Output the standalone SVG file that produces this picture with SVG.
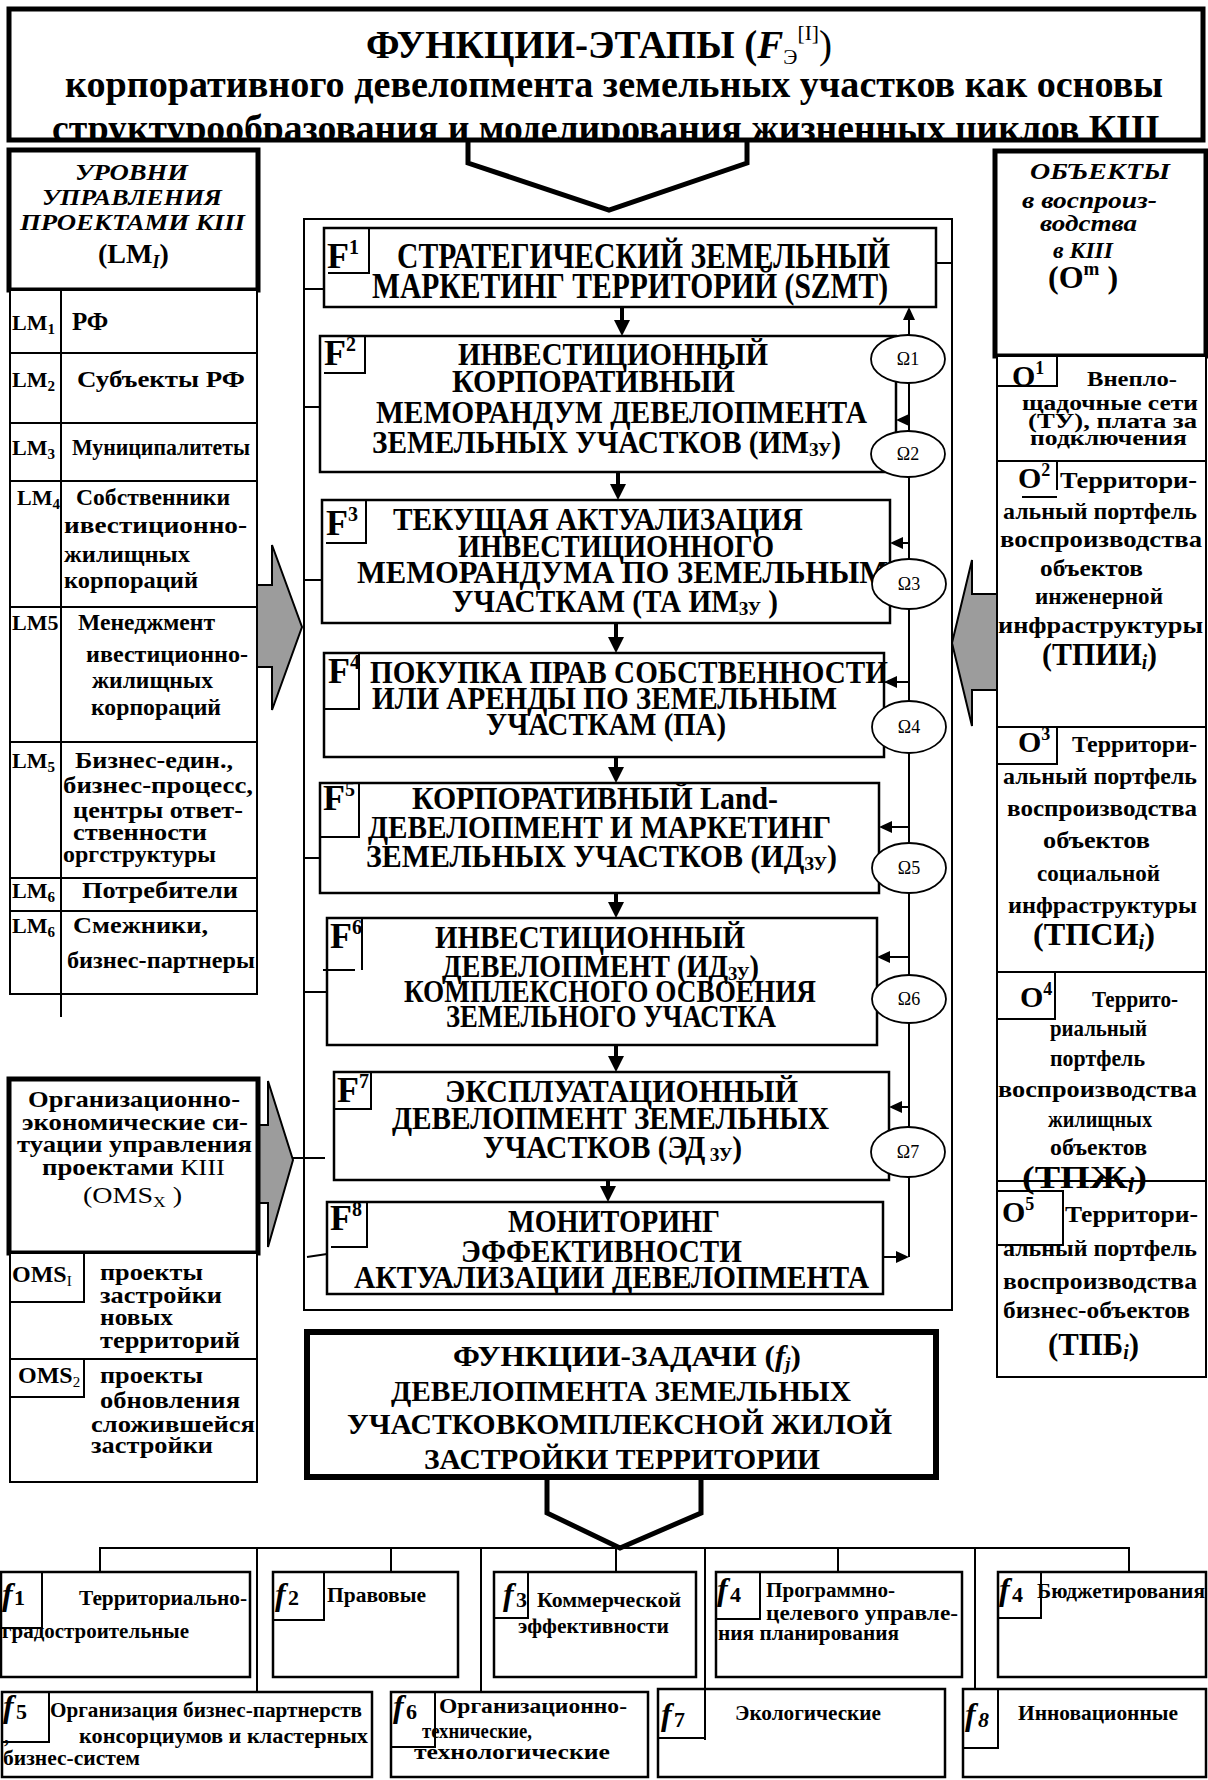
<svg xmlns="http://www.w3.org/2000/svg" width="1208" height="1780" viewBox="0 0 1208 1780">
<defs>
<style>
text{font-family:"Liberation Serif","Times New Roman",serif;font-weight:bold;fill:#000}
.it{font-style:italic}
.rg{font-weight:normal}
.bx{fill:#fff;stroke:#000;stroke-width:2.5}
.tk{fill:#fff;stroke:#000;stroke-width:5}
.ln{fill:none;stroke:#000;stroke-width:2}
.dn{fill:none;stroke:#000;stroke-width:4}
.gr{fill:#9c9c9c;stroke:#000;stroke-width:2}
.om{fill:#fff;stroke:#000;stroke-width:1.8}
.ff{font-size:31px}
.f1{font-size:36px}
.lb{font-size:36px}
.lm{font-size:22px}
.lt{font-size:23px}
.rc{font-size:24px}
.bt{font-size:20px}
.fl{font-size:32px;font-style:italic}
.fn{font-size:22px}
.ome{font-size:18px;font-weight:normal}
</style>
<marker id="ah" markerUnits="userSpaceOnUse" markerWidth="18" markerHeight="18" refX="6" refY="8" orient="auto"><path d="M0,0 L16,8 L0,16 z" fill="#000"/></marker>
<marker id="as" markerUnits="userSpaceOnUse" markerWidth="14" markerHeight="14" refX="5" refY="6" orient="auto"><path d="M0,0 L13,6 L0,12 z" fill="#000"/></marker>
<clipPath id="hc"><rect x="0" y="0" width="1208" height="139"/></clipPath>
</defs>
<rect x="0" y="0" width="1208" height="1780" fill="#fff"/>

<!-- big frame -->
<rect x="304" y="219" width="648" height="1091" fill="none" stroke="#000" stroke-width="2"/>

<g id="connectors">
  <polyline class="tk" points="468,138 468,163 609,210 747,163 747,138"/>
  <line class="dn" x1="622" y1="307" x2="622" y2="326" marker-end="url(#ah)"/>
  <line class="dn" x1="618" y1="472" x2="618" y2="490" marker-end="url(#ah)"/>
  <line class="dn" x1="616" y1="623" x2="616" y2="643" marker-end="url(#ah)"/>
  <line class="dn" x1="616" y1="757" x2="616" y2="773" marker-end="url(#ah)"/>
  <line class="dn" x1="616" y1="893" x2="616" y2="908" marker-end="url(#ah)"/>
  <line class="dn" x1="616" y1="1045" x2="616" y2="1062" marker-end="url(#ah)"/>
  <line class="dn" x1="608" y1="1177" x2="608" y2="1192" marker-end="url(#ah)"/>
  <line class="ln" x1="909" y1="1257" x2="909" y2="315" marker-end="url(#as)"/>
  <line class="ln" x1="883" y1="1257" x2="901" y2="1257" marker-end="url(#as)"/>
  <line class="ln" x1="909" y1="420" x2="904" y2="420" marker-end="url(#as)"/>
  <line class="ln" x1="909" y1="543" x2="898" y2="543" marker-end="url(#as)"/>
  <line class="ln" x1="909" y1="682" x2="892" y2="682" marker-end="url(#as)"/>
  <line class="ln" x1="909" y1="827" x2="887" y2="827" marker-end="url(#as)"/>
  <line class="ln" x1="909" y1="957" x2="885" y2="957" marker-end="url(#as)"/>
  <line class="ln" x1="909" y1="1107" x2="897" y2="1107" marker-end="url(#as)"/>
  <line class="ln" x1="304" y1="289" x2="324" y2="289"/>
  <line class="ln" x1="304" y1="407" x2="320" y2="407"/>
  <line class="ln" x1="304" y1="580" x2="322" y2="580"/>
  <line class="ln" x1="304" y1="858" x2="320" y2="858"/>
  <line class="ln" x1="304" y1="992" x2="332" y2="992"/>
  <line class="ln" x1="293" y1="1158" x2="325" y2="1158"/>
  <line class="ln" x1="307" y1="1257" x2="327" y2="1254"/>
  <line class="ln" x1="936" y1="263" x2="952" y2="263"/>
  <polygon class="gr" points="249,585 272,585 272,545 302,627 272,710 272,667 249,667"/>
  <polygon class="gr" points="1003,594 972,594 972,560 952,643 972,726 972,690 1003,690"/>
  <polygon class="gr" points="258,1125 268,1125 268,1081 293,1160 268,1247 268,1203 258,1203"/>
  <polyline class="tk" points="547,1475 547,1513 620,1548 701,1513 701,1475"/>
  <polyline class="ln" points="100,1572 100,1548 1129,1548 1129,1572"/>
  <line class="ln" x1="257" y1="1548" x2="257" y2="1692"/>
  <line class="ln" x1="391" y1="1548" x2="391" y2="1572"/>
  <line class="ln" x1="481" y1="1548" x2="481" y2="1692"/>
  <line class="ln" x1="616" y1="1548" x2="616" y2="1572"/>
  <line class="ln" x1="705" y1="1548" x2="705" y2="1689"/>
  <line class="ln" x1="838" y1="1548" x2="838" y2="1572"/>
  <line class="ln" x1="975" y1="1548" x2="975" y2="1689"/>
</g>

<g id="header">
  <rect class="tk" x="9" y="9" width="1194" height="131"/>
  <g clip-path="url(#hc)">
    <text x="366" y="58" font-size="40" textLength="466" lengthAdjust="spacingAndGlyphs">ФУНКЦИИ-ЭТАПЫ (<tspan class="it">F</tspan><tspan class="rg" font-size="22" dy="6">Э</tspan><tspan class="rg" font-size="22" dy="-24">[I]</tspan><tspan class="rg" dy="18">)</tspan></text>
    <text x="65" y="97" font-size="37" textLength="1098" lengthAdjust="spacingAndGlyphs">корпоративного  девелопмента земельных участков как основы</text>
    <text x="52" y="141" font-size="37" textLength="1108" lengthAdjust="spacingAndGlyphs">структурообразования и моделирования жизненных циклов КIII</text>
  </g>
</g>

<g id="levels-head">
  <rect class="tk" x="9" y="150" width="249" height="140"/>
  <text class="it" x="75" y="180" font-size="24" textLength="113" lengthAdjust="spacingAndGlyphs">УРОВНИ</text>
  <text class="it" x="42" y="205" font-size="24" textLength="180" lengthAdjust="spacingAndGlyphs">УПРАВЛЕНИЯ</text>
  <text class="it" x="20" y="230" font-size="24" textLength="225" lengthAdjust="spacingAndGlyphs">ПРОЕКТАМИ КIII</text>
  <text x="98" y="263" font-size="28">(LM<tspan class="it" font-size="18" dy="5">I</tspan><tspan dy="-5">)</tspan></text>
</g>

<g id="levels-table">
  <rect x="10" y="290" width="247" height="704" fill="#fff" stroke="#000" stroke-width="2"/>
  <line class="ln" x1="61" y1="290" x2="61" y2="1017"/>
  <line class="ln" x1="10" y1="353" x2="257" y2="353"/>
  <line class="ln" x1="10" y1="423" x2="257" y2="423"/>
  <line class="ln" x1="10" y1="481" x2="257" y2="481"/>
  <line class="ln" x1="10" y1="607" x2="257" y2="607"/>
  <line class="ln" x1="10" y1="742" x2="257" y2="742"/>
  <line class="ln" x1="10" y1="878" x2="257" y2="878"/>
  <line class="ln" x1="10" y1="911" x2="257" y2="911"/>
</g>
<g id="lm1"><text class="lm" x="12" y="330">LM<tspan font-size="15" dy="4">1</tspan></text><text x="72" y="330" font-size="25">РФ</text></g>
<g id="lm2"><text class="lm" x="12" y="387">LM<tspan font-size="15" dy="4">2</tspan></text><text x="77" y="387" font-size="24" textLength="168" lengthAdjust="spacingAndGlyphs">Субъекты РФ</text></g>
<g id="lm3"><text class="lm" x="12" y="455">LM<tspan font-size="15" dy="4">3</tspan></text><text class="lt" x="72" y="455" textLength="178" lengthAdjust="spacingAndGlyphs">Муниципалитеты</text></g>
<g id="lm4"><text class="lm" x="17" y="505">LM<tspan font-size="15" dy="4">4</tspan></text>
  <text class="lt" x="76" y="505" textLength="154" lengthAdjust="spacingAndGlyphs">Собственники</text>
  <text class="lt" x="64" y="533" textLength="183" lengthAdjust="spacingAndGlyphs">ивестиционно-</text>
  <text class="lt" x="64" y="562" textLength="126" lengthAdjust="spacingAndGlyphs">жилищных</text>
  <text class="lt" x="64" y="588" textLength="134" lengthAdjust="spacingAndGlyphs">корпораций</text></g>
<g id="lm5a"><text class="lm" x="12" y="630">LM5</text>
  <text class="lt" x="78" y="630" textLength="137" lengthAdjust="spacingAndGlyphs">Менеджмент</text>
  <text class="lt" x="86" y="662" textLength="162" lengthAdjust="spacingAndGlyphs">ивестиционно-</text>
  <text class="lt" x="92" y="688" textLength="121" lengthAdjust="spacingAndGlyphs">жилищных</text>
  <text class="lt" x="91" y="715" textLength="130" lengthAdjust="spacingAndGlyphs">корпораций</text></g>
<g id="lm5b"><text class="lm" x="12" y="768">LM<tspan font-size="15" dy="4">5</tspan></text>
  <text class="lt" x="75" y="768" textLength="158" lengthAdjust="spacingAndGlyphs">Бизнес-един.,</text>
  <text class="lt" x="63" y="793" textLength="190" lengthAdjust="spacingAndGlyphs">бизнес-процесс,</text>
  <text class="lt" x="73" y="818" textLength="170" lengthAdjust="spacingAndGlyphs">центры ответ-</text>
  <text class="lt" x="73" y="840" textLength="134" lengthAdjust="spacingAndGlyphs">ственности</text>
  <text class="lt" x="63" y="862" textLength="153" lengthAdjust="spacingAndGlyphs">оргструктуры</text></g>
<g id="lm6a"><text class="lm" x="12" y="898">LM<tspan font-size="15" dy="4">6</tspan></text>
  <text class="lt" x="82" y="898" textLength="156" lengthAdjust="spacingAndGlyphs">Потребители</text></g>
<g id="lm6b"><text class="lm" x="12" y="933">LM<tspan font-size="15" dy="4">6</tspan></text>
  <text class="lt" x="73" y="933" textLength="135" lengthAdjust="spacingAndGlyphs">Смежники,</text>
  <text class="lt" x="67" y="968" textLength="188" lengthAdjust="spacingAndGlyphs">бизнес-партнеры</text></g>

<g id="F1">
  <rect class="bx" x="324" y="228" width="612" height="79"/>
  <polyline class="ln" points="369,228 369,273 328,273"/>
  <text class="lb" x="327" y="268">F<tspan font-size="20" dy="-14">1</tspan></text>
  <text class="f1" x="397" y="268" textLength="493" lengthAdjust="spacingAndGlyphs">СТРАТЕГИЧЕСКИЙ ЗЕМЕЛЬНЫЙ</text>
  <text class="f1" x="372" y="298" textLength="516" lengthAdjust="spacingAndGlyphs">МАРКЕТИНГ ТЕРРИТОРИЙ  (SZMT)</text>
</g>
<g id="F2">
  <rect class="bx" x="320" y="336" width="576" height="136"/>
  <polyline class="ln" points="365,336 365,373 324,373"/>
  <text class="lb" x="324" y="365">F<tspan font-size="20" dy="-14">2</tspan></text>
  <text class="ff" x="458" y="365" textLength="310" lengthAdjust="spacingAndGlyphs">ИНВЕСТИЦИОННЫЙ</text>
  <text class="ff" x="452" y="392" textLength="283" lengthAdjust="spacingAndGlyphs">КОРПОРАТИВНЫЙ</text>
  <text class="ff" x="376" y="423" textLength="491" lengthAdjust="spacingAndGlyphs">МЕМОРАНДУМ ДЕВЕЛОПМЕНТА</text>
  <text class="ff" x="372" y="453" textLength="469" lengthAdjust="spacingAndGlyphs">ЗЕМЕЛЬНЫХ УЧАСТКОВ (ИМ<tspan font-size="19" dy="3">ЗУ</tspan><tspan dy="-3">)</tspan></text>
</g>
<g id="F3">
  <rect class="bx" x="322" y="500" width="568" height="123"/>
  <polyline class="ln" points="366,500 366,543 326,543"/>
  <text class="lb" x="326" y="535">F<tspan font-size="20" dy="-14">3</tspan></text>
  <text class="ff" x="393" y="530" textLength="410" lengthAdjust="spacingAndGlyphs">ТЕКУЩАЯ АКТУАЛИЗАЦИЯ</text>
  <text class="ff" x="458" y="557" textLength="316" lengthAdjust="spacingAndGlyphs">ИНВЕСТИЦИОННОГО</text>
  <text class="ff" x="357" y="583" textLength="531" lengthAdjust="spacingAndGlyphs">МЕМОРАНДУМА ПО  ЗЕМЕЛЬНЫМ</text>
  <text class="ff" x="452" y="612" textLength="326" lengthAdjust="spacingAndGlyphs">УЧАСТКАМ (ТА ИМ<tspan font-size="19" dy="3">ЗУ</tspan><tspan dy="-3"> )</tspan></text>
</g>
<g id="F4">
  <rect class="bx" x="324" y="653" width="560" height="104"/>
  <polyline class="ln" points="359,653 359,709 323,709"/>
  <text class="lb" x="328" y="683">F<tspan font-size="20" dy="-14">4</tspan></text>
  <text class="ff" x="370" y="683" textLength="518" lengthAdjust="spacingAndGlyphs">ПОКУПКА ПРАВ СОБСТВЕННОСТИ</text>
  <text class="ff" x="372" y="709" textLength="465" lengthAdjust="spacingAndGlyphs">ИЛИ АРЕНДЫ ПО ЗЕМЕЛЬНЫМ</text>
  <text class="ff" x="486" y="735" textLength="240" lengthAdjust="spacingAndGlyphs">УЧАСТКАМ (ПА)</text>
</g>
<g id="F5">
  <rect class="bx" x="320" y="783" width="559" height="110"/>
  <polyline class="ln" points="359,783 359,837 320,837"/>
  <text class="lb" x="323" y="810">F<tspan font-size="20" dy="-14">5</tspan></text>
  <text class="ff" x="412" y="809" textLength="366" lengthAdjust="spacingAndGlyphs">КОРПОРАТИВНЫЙ Land-</text>
  <text class="ff" x="368" y="838" textLength="463" lengthAdjust="spacingAndGlyphs">ДЕВЕЛОПМЕНТ И МАРКЕТИНГ</text>
  <text class="ff" x="366" y="867" textLength="471" lengthAdjust="spacingAndGlyphs">ЗЕМЕЛЬНЫХ УЧАСТКОВ  (ИД<tspan font-size="19" dy="3">ЗУ</tspan><tspan dy="-3">)</tspan></text>
</g>
<g id="F6">
  <rect class="bx" x="327" y="918" width="550" height="127"/>
  <polyline class="ln" points="362,918 362,970"/>
  <line class="ln" x1="323" y1="970" x2="355" y2="970"/>
  <text class="lb" x="330" y="948">F<tspan font-size="20" dy="-14">6</tspan></text>
  <text class="ff" x="435" y="948" textLength="310" lengthAdjust="spacingAndGlyphs">ИНВЕСТИЦИОННЫЙ</text>
  <text class="ff" x="442" y="977" textLength="317" lengthAdjust="spacingAndGlyphs">ДЕВЕЛОПМЕНТ (ИД<tspan font-size="19" dy="3">ЗУ</tspan><tspan dy="-3">)</tspan></text>
  <text class="ff" x="404" y="1002" textLength="412" lengthAdjust="spacingAndGlyphs">КОМПЛЕКСНОГО  ОСВОЕНИЯ</text>
  <text class="ff" x="446" y="1027" textLength="330" lengthAdjust="spacingAndGlyphs">ЗЕМЕЛЬНОГО УЧАСТКА</text>
</g>
<g id="F7">
  <rect class="bx" x="334" y="1072" width="555" height="108"/>
  <polyline class="ln" points="371,1072 371,1109 334,1109"/>
  <text class="lb" x="337" y="1102">F<tspan font-size="20" dy="-14">7</tspan></text>
  <text class="ff" x="445" y="1102" textLength="353" lengthAdjust="spacingAndGlyphs">ЭКСПЛУАТАЦИОННЫЙ</text>
  <text class="ff" x="392" y="1129" textLength="437" lengthAdjust="spacingAndGlyphs">ДЕВЕЛОПМЕНТ ЗЕМЕЛЬНЫХ</text>
  <text class="ff" x="483" y="1158" textLength="259" lengthAdjust="spacingAndGlyphs">УЧАСТКОВ (ЭД<tspan font-size="19" dy="3"> ЗУ</tspan><tspan dy="-3">)</tspan></text>
</g>
<g id="F8">
  <rect class="bx" x="327" y="1202" width="556" height="92"/>
  <polyline class="ln" points="367,1202 367,1247 331,1247"/>
  <text class="lb" x="330" y="1230">F<tspan font-size="20" dy="-14">8</tspan></text>
  <text class="ff" x="508" y="1232" textLength="212" lengthAdjust="spacingAndGlyphs">МОНИТОРИНГ</text>
  <text class="ff" x="461" y="1262" textLength="281" lengthAdjust="spacingAndGlyphs">ЭФФЕКТИВНОСТИ</text>
  <text class="ff" x="354" y="1288" textLength="515" lengthAdjust="spacingAndGlyphs">АКТУАЛИЗАЦИИ ДЕВЕЛОПМЕНТА</text>
</g>

<g id="omega1"><ellipse class="om" cx="908" cy="359" rx="37" ry="24"/><text class="ome" x="908" y="365" text-anchor="middle">Ω1</text></g>
<g id="omega2"><ellipse class="om" cx="908" cy="454" rx="37" ry="23"/><text class="ome" x="908" y="460" text-anchor="middle">Ω2</text></g>
<g id="omega3"><ellipse class="om" cx="909" cy="584" rx="37" ry="25"/><text class="ome" x="909" y="590" text-anchor="middle">Ω3</text></g>
<g id="omega4"><ellipse class="om" cx="909" cy="727" rx="37" ry="26"/><text class="ome" x="909" y="733" text-anchor="middle">Ω4</text></g>
<g id="omega5"><ellipse class="om" cx="909" cy="868" rx="37" ry="25"/><text class="ome" x="909" y="874" text-anchor="middle">Ω5</text></g>
<g id="omega6"><ellipse class="om" cx="909" cy="999" rx="37" ry="24"/><text class="ome" x="909" y="1005" text-anchor="middle">Ω6</text></g>
<g id="omega7"><ellipse class="om" cx="908" cy="1152" rx="37" ry="25"/><text class="ome" x="908" y="1158" text-anchor="middle">Ω7</text></g>

<g id="objects-head">
  <rect class="tk" x="995" y="151" width="211" height="205"/>
  <text class="it" x="1030" y="179" font-size="24" textLength="140" lengthAdjust="spacingAndGlyphs">ОБЪЕКТЫ</text>
  <text class="it" x="1022" y="208" font-size="24" textLength="135" lengthAdjust="spacingAndGlyphs">в воспроиз-</text>
  <text class="it" x="1040" y="231" font-size="24" textLength="97" lengthAdjust="spacingAndGlyphs">водства</text>
  <text class="it" x="1053" y="258" font-size="24" textLength="60" lengthAdjust="spacingAndGlyphs">в КIII</text>
  <text x="1048" y="288" font-size="32">(O<tspan font-size="19" dy="-13">m</tspan><tspan dy="13"> )</tspan></text>
</g>
<g id="objects-table">
  <rect x="997" y="356" width="209" height="1021" fill="#fff" stroke="#000" stroke-width="2"/>
  <line class="ln" x1="997" y1="461" x2="1206" y2="461"/>
  <line class="ln" x1="997" y1="727" x2="1206" y2="727"/>
  <line class="ln" x1="997" y1="972" x2="1206" y2="972"/>
  <line class="ln" x1="997" y1="1181" x2="1206" y2="1181"/>
</g>
<g id="O1">
  <polyline class="ln" points="1057,356 1057,386 997,386"/>
  <text x="1012" y="386" font-size="30">O<tspan font-size="18" dy="-12">1</tspan></text>
  <text x="1087" y="386" font-size="22" textLength="90" lengthAdjust="spacingAndGlyphs">Внепло-</text>
  <text x="1022" y="410" font-size="22" textLength="176" lengthAdjust="spacingAndGlyphs">щадочные сети</text>
  <text x="1028" y="428" font-size="22" textLength="169" lengthAdjust="spacingAndGlyphs">(ТУ), плата за</text>
  <text x="1030" y="445" font-size="22" textLength="157" lengthAdjust="spacingAndGlyphs">подключения</text>
</g>
<g id="O2">
  <line class="ln" x1="1057" y1="461" x2="1057" y2="490"/>
  <line class="ln" x1="1022" y1="497" x2="1057" y2="497"/>
  <text x="1018" y="488" font-size="30">O<tspan font-size="18" dy="-12">2</tspan></text>
  <text class="rc" x="1060" y="488" textLength="137" lengthAdjust="spacingAndGlyphs">Территори-</text>
  <text class="rc" x="1003" y="519" textLength="194" lengthAdjust="spacingAndGlyphs">альный портфель</text>
  <text class="rc" x="1000" y="547" textLength="202" lengthAdjust="spacingAndGlyphs">воспроизводства</text>
  <text class="rc" x="1040" y="576" textLength="103" lengthAdjust="spacingAndGlyphs">объектов</text>
  <text class="rc" x="1035" y="604" textLength="128" lengthAdjust="spacingAndGlyphs">инженерной</text>
  <text class="rc" x="998" y="633" textLength="205" lengthAdjust="spacingAndGlyphs">инфраструктуры</text>
  <text x="1042" y="665" font-size="31" textLength="115" lengthAdjust="spacingAndGlyphs">(ТПИИ<tspan class="it" font-size="20" dy="4">i</tspan><tspan dy="-4">)</tspan></text>
</g>
<g id="O3">
  <polyline class="ln" points="1057,727 1057,764 997,764"/>
  <text x="1018" y="752" font-size="30">O<tspan font-size="18" dy="-12">3</tspan></text>
  <text class="rc" x="1072" y="752" textLength="125" lengthAdjust="spacingAndGlyphs">Территори-</text>
  <text class="rc" x="1003" y="784" textLength="194" lengthAdjust="spacingAndGlyphs">альный портфель</text>
  <text class="rc" x="1007" y="816" textLength="190" lengthAdjust="spacingAndGlyphs">воспроизводства</text>
  <text class="rc" x="1043" y="848" textLength="107" lengthAdjust="spacingAndGlyphs">объектов</text>
  <text class="rc" x="1037" y="881" textLength="123" lengthAdjust="spacingAndGlyphs">социальной</text>
  <text class="rc" x="1008" y="913" textLength="189" lengthAdjust="spacingAndGlyphs">инфраструктуры</text>
  <text x="1033" y="945" font-size="31" textLength="122" lengthAdjust="spacingAndGlyphs">(ТПСИ<tspan class="it" font-size="20" dy="4">i</tspan><tspan dy="-4">)</tspan></text>
</g>
<g id="O4">
  <polyline class="ln" points="1055,972 1055,1019 997,1019"/>
  <text x="1020" y="1007" font-size="30">O<tspan font-size="18" dy="-12">4</tspan></text>
  <text class="rc" x="1092" y="1007" textLength="86" lengthAdjust="spacingAndGlyphs">Террито-</text>
  <text class="rc" x="1050" y="1036" textLength="97" lengthAdjust="spacingAndGlyphs">риальный</text>
  <text class="rc" x="1050" y="1066" textLength="95" lengthAdjust="spacingAndGlyphs">портфель</text>
  <text class="rc" x="998" y="1097" textLength="199" lengthAdjust="spacingAndGlyphs">воспроизводства</text>
  <text class="rc" x="1048" y="1127" textLength="104" lengthAdjust="spacingAndGlyphs">жилищных</text>
  <text class="rc" x="1050" y="1155" textLength="97" lengthAdjust="spacingAndGlyphs">объектов</text>
  <text x="1022" y="1188" font-size="31" textLength="125" lengthAdjust="spacingAndGlyphs">(ТПЖ<tspan class="it" font-size="20" dy="4">i</tspan><tspan dy="-4">)</tspan></text>
</g>
<g id="O5">
  <rect x="997" y="1191" width="66" height="54" fill="none" stroke="#000" stroke-width="2"/>
  <text x="1002" y="1222" font-size="30">O<tspan font-size="18" dy="-12">5</tspan></text>
  <text class="rc" x="1065" y="1222" textLength="133" lengthAdjust="spacingAndGlyphs">Территори-</text>
  <text class="rc" x="1003" y="1256" textLength="194" lengthAdjust="spacingAndGlyphs">альный портфель</text>
  <text class="rc" x="1003" y="1289" textLength="194" lengthAdjust="spacingAndGlyphs">воспроизводства</text>
  <text class="rc" x="1003" y="1318" textLength="187" lengthAdjust="spacingAndGlyphs">бизнес-объектов</text>
  <text x="1048" y="1355" font-size="31" textLength="91" lengthAdjust="spacingAndGlyphs">(ТПБ<tspan class="it" font-size="20" dy="4">i</tspan><tspan dy="-4">)</tspan></text>
</g>

<g id="oms-head">
  <rect class="tk" x="9" y="1079" width="249" height="174"/>
  <text x="28" y="1107" font-size="24" textLength="212" lengthAdjust="spacingAndGlyphs">Организационно-</text>
  <text x="22" y="1130" font-size="24" textLength="226" lengthAdjust="spacingAndGlyphs">экономические си-</text>
  <text x="17" y="1152" font-size="24" textLength="235" lengthAdjust="spacingAndGlyphs">туации управления</text>
  <text x="42" y="1175" font-size="24" textLength="183" lengthAdjust="spacingAndGlyphs">проектами<tspan class="rg"> КIII</tspan></text>
  <text class="rg" x="83" y="1203" font-size="24" textLength="99" lengthAdjust="spacingAndGlyphs">(OMS<tspan font-size="15" dy="4">X</tspan><tspan dy="-4"> )</tspan></text>
</g>
<g id="oms-table">
  <rect x="10" y="1253" width="247" height="229" fill="#fff" stroke="#000" stroke-width="2"/>
  <line class="ln" x1="10" y1="1359" x2="257" y2="1359"/>
</g>
<g id="oms1">
  <rect x="10" y="1253" width="74" height="49" fill="none" stroke="#000" stroke-width="2"/>
  <text x="12" y="1282" font-size="24">OMS<tspan class="rg" font-size="15" dy="4">I</tspan></text>
  <text x="100" y="1280" font-size="24" textLength="103" lengthAdjust="spacingAndGlyphs">проекты</text>
  <text x="100" y="1303" font-size="24" textLength="122" lengthAdjust="spacingAndGlyphs">застройки</text>
  <text x="100" y="1325" font-size="24" textLength="73" lengthAdjust="spacingAndGlyphs">новых</text>
  <text x="100" y="1348" font-size="24" textLength="140" lengthAdjust="spacingAndGlyphs">территорий</text>
</g>
<g id="oms2">
  <rect x="10" y="1359" width="74" height="38" fill="none" stroke="#000" stroke-width="2"/>
  <text x="18" y="1383" font-size="24">OMS<tspan class="rg" font-size="15" dy="4">2</tspan></text>
  <text x="100" y="1383" font-size="24" textLength="103" lengthAdjust="spacingAndGlyphs">проекты</text>
  <text x="100" y="1408" font-size="24" textLength="140" lengthAdjust="spacingAndGlyphs">обновления</text>
  <text x="91" y="1432" font-size="24" textLength="164" lengthAdjust="spacingAndGlyphs">сложившейся</text>
  <text x="91" y="1453" font-size="24" textLength="122" lengthAdjust="spacingAndGlyphs">застройки</text>
</g>

<g id="tasks-head">
  <rect x="307" y="1332" width="629" height="145" fill="#fff" stroke="#000" stroke-width="6"/>
  <text x="453" y="1366" font-size="30" textLength="348" lengthAdjust="spacingAndGlyphs">ФУНКЦИИ-ЗАДАЧИ (<tspan class="it">f</tspan><tspan class="it" font-size="18" dy="4">j</tspan><tspan dy="-4">)</tspan></text>
  <text x="391" y="1401" font-size="30" textLength="460" lengthAdjust="spacingAndGlyphs">ДЕВЕЛОПМЕНТА ЗЕМЕЛЬНЫХ</text>
  <text x="347" y="1434" font-size="30" textLength="545" lengthAdjust="spacingAndGlyphs">УЧАСТКОВКОМПЛЕКСНОЙ ЖИЛОЙ</text>
  <text x="424" y="1469" font-size="30" textLength="396" lengthAdjust="spacingAndGlyphs">ЗАСТРОЙКИ ТЕРРИТОРИИ</text>
</g>

<g id="f1">
  <rect class="bx" x="1" y="1572" width="249" height="105"/>
  <polyline class="ln" points="42,1572 42,1628 1,1628"/>
  <text class="fl" x="2" y="1605">f</text><text class="fn" x="14" y="1605">1</text>
  <text class="bt" x="79" y="1605" textLength="168" lengthAdjust="spacingAndGlyphs">Территориально-</text>
  <text class="bt" x="2" y="1638" textLength="187" lengthAdjust="spacingAndGlyphs">градостроительные</text>
</g>
<g id="f2">
  <rect class="bx" x="273" y="1572" width="185" height="105"/>
  <polyline class="ln" points="324,1572 324,1620 273,1620"/>
  <text class="fl" x="275" y="1605">f</text><text class="fn" x="288" y="1605">2</text>
  <text class="bt" x="327" y="1602" textLength="99" lengthAdjust="spacingAndGlyphs">Правовые</text>
</g>
<g id="f3">
  <rect class="bx" x="494" y="1572" width="202" height="105"/>
  <polyline class="ln" points="528,1572 528,1618 494,1618"/>
  <text class="fl" x="503" y="1605">f</text><text class="fn" x="516" y="1607">3</text>
  <text class="bt" x="537" y="1607" textLength="144" lengthAdjust="spacingAndGlyphs">Коммерческой</text>
  <text class="bt" x="518" y="1633" textLength="151" lengthAdjust="spacingAndGlyphs">эффективности</text>
</g>
<g id="f4">
  <rect class="bx" x="716" y="1572" width="246" height="105"/>
  <polyline class="ln" points="760,1572 760,1619 716,1619"/>
  <text class="fl" x="717" y="1600">f</text><text class="fn" x="730" y="1602">4</text>
  <text class="bt" x="766" y="1597" textLength="129" lengthAdjust="spacingAndGlyphs">Программно-</text>
  <text class="bt" x="766" y="1620" textLength="192" lengthAdjust="spacingAndGlyphs">целевого   управле-</text>
  <text class="bt" x="718" y="1640" textLength="181" lengthAdjust="spacingAndGlyphs">ния планирования</text>
</g>
<g id="f4b">
  <rect class="bx" x="998" y="1572" width="208" height="105"/>
  <polyline class="ln" points="1041,1572 1041,1618 998,1618"/>
  <text class="fl" x="999" y="1600">f</text><text class="fn" x="1012" y="1602">4</text>
  <text class="bt" x="1037" y="1598" textLength="168" lengthAdjust="spacingAndGlyphs">Бюджетирования</text>
</g>
<g id="f5">
  <rect class="bx" x="2" y="1692" width="370" height="85"/>
  <polyline class="ln" points="49,1692 49,1742 2,1742"/>
  <text class="fl" x="3" y="1717">f</text><text class="fn" x="16" y="1719">5</text>
  <text class="bt" x="50" y="1717" textLength="312" lengthAdjust="spacingAndGlyphs">Организация бизнес-партнерств</text>
  <text class="bt" x="4" y="1743">,</text>
  <text class="bt" x="79" y="1743" textLength="289" lengthAdjust="spacingAndGlyphs">консорциумов  и  кластерных</text>
  <text class="bt" x="3" y="1765" textLength="137" lengthAdjust="spacingAndGlyphs">бизнес-систем</text>
</g>
<g id="f6">
  <rect class="bx" x="391" y="1692" width="257" height="85"/>
  <polyline class="ln" points="435,1692 435,1747 391,1747"/>
  <text class="fl" x="393" y="1717">f</text><text class="fn" x="406" y="1719">6</text>
  <text class="bt" x="439" y="1713" textLength="188" lengthAdjust="spacingAndGlyphs">Организационно-</text>
  <text class="bt" x="422" y="1738" textLength="110" lengthAdjust="spacingAndGlyphs">технические,</text>
  <text class="bt" x="414" y="1759" textLength="196" lengthAdjust="spacingAndGlyphs">технологические</text>
</g>
<g id="f7">
  <rect class="bx" x="658" y="1689" width="287" height="88"/>
  <polyline class="ln" points="705,1689 705,1740"/>
  <line class="ln" x1="658" y1="1738" x2="705" y2="1738"/>
  <text class="fl" x="661" y="1725">f</text><text class="fn" x="674" y="1727">7</text>
  <text class="bt" x="735" y="1720" textLength="146" lengthAdjust="spacingAndGlyphs">Экологические</text>
</g>
<g id="f8">
  <rect class="bx" x="963" y="1689" width="243" height="88"/>
  <polyline class="ln" points="998,1689 998,1748 963,1748"/>
  <text class="fl" x="965" y="1725">f</text><text class="fn" x="978" y="1727" font-style="italic">8</text>
  <text class="bt" x="1018" y="1720" textLength="160" lengthAdjust="spacingAndGlyphs">Инновационные</text>
</g>
</svg>
